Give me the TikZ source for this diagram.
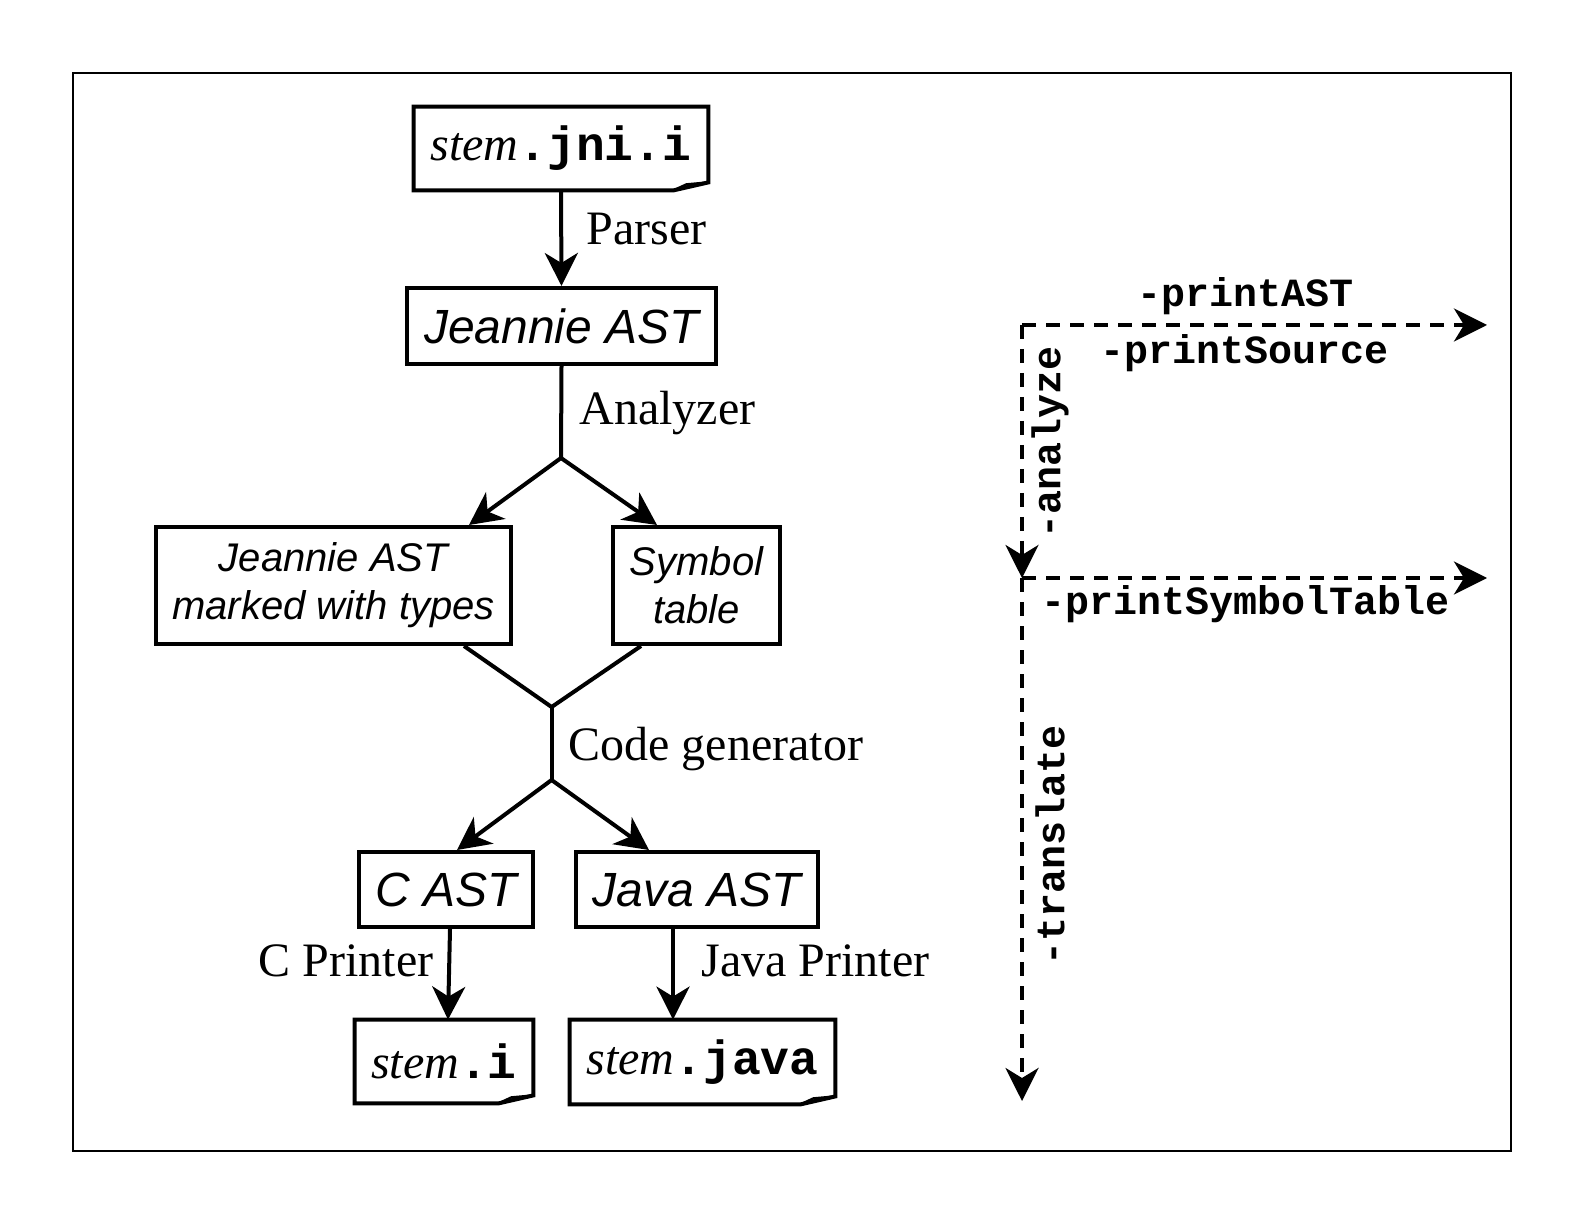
\documentclass[tikz,border=0pt]{standalone}
\usepackage{fontspec}
\setmainfont{Liberation Serif}
\setsansfont{Liberation Sans}
\setmonofont{Liberation Mono}
\usetikzlibrary{arrows.meta,calc,positioning}

\tikzset{
  stage/.style={draw, line width=2pt, inner sep=0pt, align=center,
    font=\fontsize{24}{28}\selectfont\sffamily\itshape},
  stagetwo/.style={stage, font=\fontsize{20}{24}\selectfont\sffamily\itshape},
  file/.style={inner sep=0pt, font=\fontsize{24}{28}\selectfont},
  step label/.style={inner sep=0pt, font=\fontsize{24}{28}\selectfont},
  flag/.style={inner sep=0pt, font=\fontsize{20}{24}\selectfont\ttfamily\bfseries},
  flow/.style={line width=2pt, -{Stealth[length=16.5pt,width=16.5pt,inset=5pt]}},
  optflow/.style={flow, dash pattern=on 7pt off 5pt},
}
\newcommand{\stem}{{\itshape stem}}
\newcommand{\ext}[1]{{\ttfamily\bfseries #1}}

\begin{document}
\begin{tikzpicture}[x=0.5pt,y=-0.5pt]
\useasboundingbox (0,0) rectangle (1584,1224);
\draw[line width=0.8pt] (73,73) rectangle (1511,1151);
%
% stages of the translator
\node[file, minimum width=147pt, minimum height=41.5pt] (jni) at (561,148.5) {\stem\ext{.jni.i}};
\node[stage, minimum width=154.5pt, minimum height=38pt] (ast) at (561.5,326) {Jeannie AST};
\node[stagetwo, minimum width=177.5pt, minimum height=58.5pt] (typed) at (333.5,585.5) {Jeannie AST\\marked with types};
\node[stagetwo, minimum width=83.5pt, minimum height=58.5pt] (symtab) at (696.5,585.5) {Symbol\\table};
\node[stage, minimum width=87pt, minimum height=37.5pt] (cast) at (446,889.5) {C AST};
\node[stage, minimum width=121pt, minimum height=37.5pt] (jast) at (697,889.5) {Java AST};
\node[file, minimum width=89pt, minimum height=41.5pt] (stemi) at (444,1061.5) {\stem\ext{.i}};
\node[file, minimum width=132.5pt, minimum height=42pt] (stemjava) at (702.5,1062) {\stem\ext{.java}};
%
% dog-eared file outlines
\foreach \f in {jni,stemi,stemjava} {
  \draw[line width=2pt, line join=miter] (\f.north west) -- (\f.north east) -- ($(\f.south east)+(0,-8)$)
    -- ($(\f.south east)+(-35,0)$) -- (\f.south west) -- cycle;
  \draw[line width=1.2pt] ($(\f.south east)+(-35,0)$) -- ($(\f.south east)+(-22,-6)$) -- ($(\f.south east)+(0,-8)$);
}
%
\coordinate (split1) at (561,458);
\coordinate (merge) at (551.6,707);
\coordinate (split2) at (551.6,780);
\coordinate (jout) at ($(jast.south)+(-24,0)$);
%
\draw[flow] (jni.south) -- (ast.north);
\draw[line width=2pt] (ast.south) -- (split1);
\draw[flow] (split1) -- ($(typed.north east)+(-44,0)$);
\draw[flow] (split1) -- ($(symtab.north west)+(46,0)$);
\draw[line width=2pt] ($(typed.south east)+(-49,0)$) -- (merge) -- ($(symtab.south west)+(30,0)$);
\draw[line width=2pt] (merge) -- (split2);
\draw[flow] (split2) -- ($(cast.north)+(11,0)$);
\draw[flow] (split2) -- ($(jast.north west)+(75,0)$);
\draw[flow] ($(cast.south)+(4,0)$) -- ($(stemi.north)+(4,0)$);
\draw[flow] (jout) -- (jout |- stemjava.north);
%
\node[step label, anchor=west] (parser) at (586,229) {Parser};
\node[step label, anchor=west] (analyzer) at (579,413) {Analyzer};
\node[step label, anchor=west] (codegen) at (568,749) {Code generator};
\node[step label, anchor=east] (cprinter) at (434,961) {C Printer};
\node[step label, anchor=west] (jprinter) at (701,961) {Java Printer};
%
% command line options
\coordinate (opt1) at (1022,325);
\coordinate (opt2) at (1022,578);
\coordinate (printend) at (1487,325);
\coordinate (symend) at (1487,578);
\coordinate (transend) at (1022,1101);
\draw[optflow] (opt1) -- (printend);
\draw[optflow] (opt1) -- (opt2);
\draw[optflow] (opt2) -- (symend);
\draw[optflow] (opt2) -- (transend);
\node[flag] (printast) at (1245.6,296) {-printAST};
\node[flag] (printsrc) at (1244.6,353.6) {-printSource};
\node[flag] (printsym) at (1245.6,604) {-printSymbolTable};
\node[flag, rotate=90] (analyze) at (1050,442) {-analyze};
\node[flag, rotate=90] (translate) at (1050,845) {-translate};
\end{tikzpicture}
\end{document}
